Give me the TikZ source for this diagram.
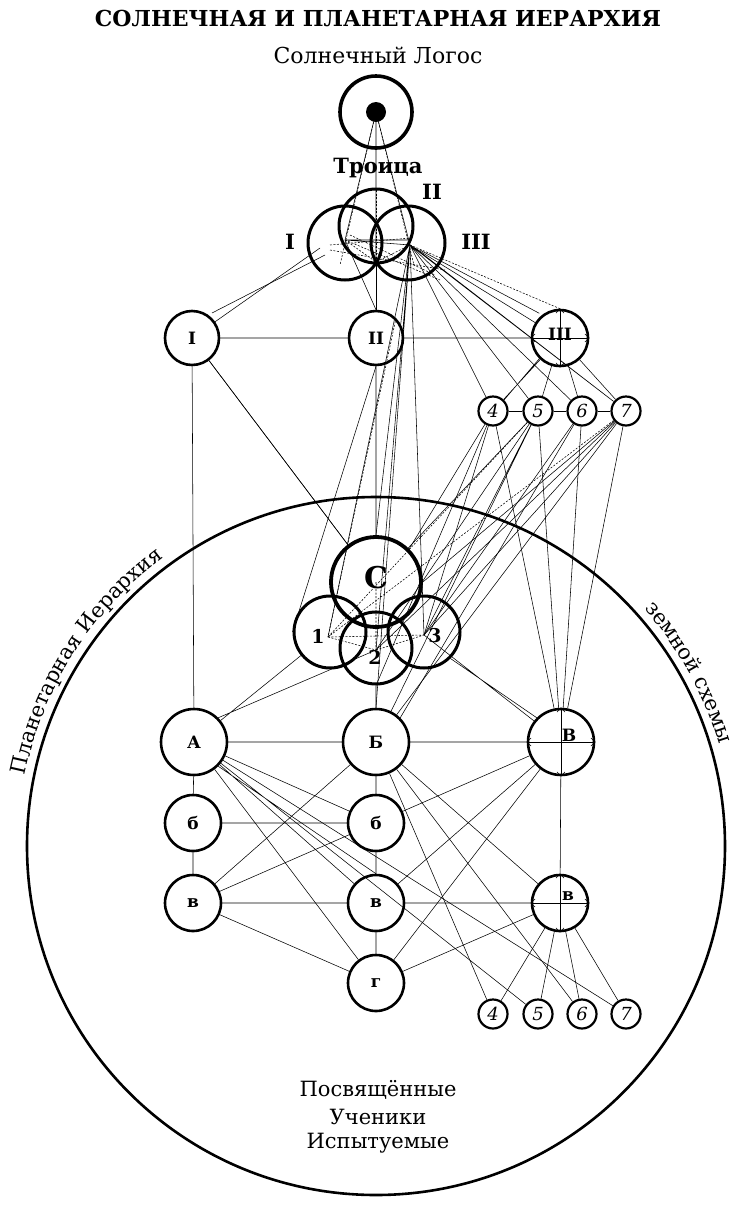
\documentclass[tikz,border=0pt]{standalone}
\usepackage{fontspec}
\setmainfont{DejaVu Serif}
\usetikzlibrary{decorations.text,arrows.meta}
\begin{document}
\begin{tikzpicture}[x=1pt,y=-1pt,
  nd/.style={circle,draw,line width=2.6pt,inner sep=0pt,font=\bfseries\fontsize{17}{17}\selectfont},
  sm/.style={circle,draw,line width=2.2pt,inner sep=0pt,minimum size=29pt,font=\itshape\fontsize{18}{18}\selectfont},
  tk/.style={circle,draw,line width=3pt,inner sep=0pt},
  ln/.style={line width=0.55pt},
  ds/.style={line width=0.55pt,dash pattern=on 2pt off 1.5pt},
  ar/.style={line width=0.55pt,{Straight Barb[length=4pt]}-{Straight Barb[length=4pt]}}]
\useasboundingbox (0,0) rectangle (750,1205);
\fill[white] (0,0) rectangle (750,1205);
\node (title) at (378,18) {\bfseries\fontsize{22}{22}\selectfont СОЛНЕЧНАЯ И ПЛАНЕТАРНАЯ ИЕРАРХИЯ};
\node (logtxt) at (378,55) {\fontsize{22}{22}\selectfont Солнечный Логос};
\node (tr) at (378,168) {\bfseries\fontsize{21}{21}\selectfont Троица};
\node (lI) at (290,242) {\bfseries\fontsize{21}{21}\selectfont I};
\node (lII) at (432,192) {\bfseries\fontsize{21}{21}\selectfont II};
\node (lIII) at (476,242) {\bfseries\fontsize{21}{21}\selectfont III};
\node[tk,line width=3.6pt,minimum size=72pt] (L) at (376,112) {};
\fill (376,112) circle (10);
\node[tk,minimum size=74pt] (T1) at (345,243) {};
\node[tk,minimum size=74pt] (T2) at (376,226) {};
\node[tk,minimum size=74pt] (T3) at (408,243) {};
\coordinate (t1) at (345,240);
\coordinate (t3) at (410,245);
\coordinate (t2) at (376,262);
\node[nd,minimum size=54pt] (I) at (192,338) {I};
\node[nd,minimum size=54pt] (II) at (376,338) {II};
\node[nd,minimum size=56pt] (III) at (560,338) {\raisebox{8pt}{III}};
\node[sm] (a4) at (493,411) {4};
\node[sm] (a5) at (538,411) {5};
\node[sm] (a6) at (582,411) {6};
\node[sm] (a7) at (626,411) {7};
\node[tk,line width=3.8pt,minimum size=90pt,font=\bfseries\fontsize{30}{30}\selectfont] (C) at (376,582) {\raisebox{10pt}{C}};
\node[tk,minimum size=72pt] (K1) at (330,632) {};
\node[tk,minimum size=72pt] (K2) at (376,648) {};
\node[tk,minimum size=72pt] (K3) at (424,632) {};
\node[font=\bfseries\fontsize{19}{19}\selectfont] (n1) at (318,636) {1};
\node[font=\bfseries\fontsize{19}{19}\selectfont] (n2) at (375,657) {2};
\node[font=\bfseries\fontsize{19}{19}\selectfont] (n3) at (435,636) {3};
\coordinate (k1) at (328,637);
\coordinate (k2) at (376,650);
\coordinate (k3) at (424,635);
\node[nd,minimum size=66pt] (A) at (194,742) {А};
\node[nd,minimum size=66pt] (B) at (376,742) {Б};
\node[nd,minimum size=66pt] (V) at (561,742) {\hspace{16pt}\raisebox{14pt}{В}};
\node[nd,minimum size=56pt] (b1) at (193,823) {б};
\node[nd,minimum size=56pt] (b2) at (376,823) {б};
\node[nd,minimum size=56pt] (v1) at (193,903) {в};
\node[nd,minimum size=56pt] (v2) at (376,903) {в};
\node[nd,minimum size=56pt] (v3) at (560,903) {\hspace{16pt}\raisebox{14pt}{в}};
\node[nd,minimum size=56pt] (g) at (376,983) {г};
\node[sm] (c4) at (493,1014) {4};
\node[sm] (c5) at (538,1014) {5};
\node[sm] (c6) at (582,1014) {6};
\node[sm] (c7) at (626,1014) {7};
\node[circle,draw,line width=2.6pt,minimum size=698pt,inner sep=0pt] (P) at (376,846) {};
\path[decorate,decoration={text along path,text align=center,text={|\fontsize{21}{21}\selectfont|Планетарная Иерархия}}]
  (376,846) ++(-173:358) arc[start angle=-173,end angle=-122,radius=358];
\path[decorate,decoration={text along path,text align=center,text={|\fontsize{21}{21}\selectfont|земной схемы}}]
  (376,846) ++(-48:358) arc[start angle=-48,end angle=-10,radius=358];
\node (t1x) at (378,1090) {\fontsize{21}{21}\selectfont Посвящённые};
\node (t2x) at (378,1117) {\fontsize{21}{21}\selectfont Ученики};
\node (t3x) at (378,1143) {\fontsize{21}{21}\selectfont Испытуемые};
\draw[ln] (L.center) -- (t1) (L.center) -- (t3) (L.center) -- (t2);
\draw[ds] (L.center) -- (340,265) (L.center) -- (414,265);
\draw[ds] (376,190) -- (t2);
\draw[ln] (t1) -- (t3) (t1) -- (410,240);
\draw[ds] (t1) -- (t2) (t3) -- (t2) (330,245) -- (410,238) (330,250) -- (445,270) (345,240) -- (440,280) (350,235)--(435,275);
\draw[ln] (T1.center) ++(-25,5) -- (I);
\draw[ln] (T1.center) ++(-20,12) -- ([yshift=5pt]I.north east);
\draw[ln] (t2) -- (II);
\draw[ln] (t3) -- (III);
\draw[ln] (t3) ++(10,5) -- ([yshift=4pt]III.north west);
\draw[ln] (t3) -- (a4) (t3) -- (a5) (t3) -- (a6) (t3) -- (a7) (t3) ++(5,3) -- (a7);
\draw[ln] (t1) -- (II.north);
\draw[ln] (t3) -- (k1) (t3) -- (C.north) (t3) -- (k2) (t3) -- (k3) (t3) -- (B.north);
\draw[ds] (t3) -- (III.north);
\draw[ln] (I) -- (II) (II) -- (III) (I) -- (A) (I) -- (C) (II) -- (C);
\draw[ds] (II.north east) -- (k1);
\draw[ar] (III.west) -- (III.east);
\draw[ar] (III.north) -- (III.south);
\draw[ln] (a4) -- (a5) (a5) -- (a6) (a6) -- (a7);
\draw[ln] (III) -- (a4) (III) -- (a5) (III) -- (a6) (III) -- (a7) (III.south west) -- (a4.north east);
\draw[ln] (II.south) -- (K1.west);
\draw[ln] (a4) -- (C.north east) (a4) -- (k3) (a4) -- (V) (a4) -- (K2.south);
\draw[ln] (a5) -- (C) (a5) -- (k3) (a5) -- (B) (a5) -- (V) (a5) -- (k2);
\draw[ln] (a6) -- (k3) (a6) -- (V) (a6) -- (B.north east);
\draw[ln] (a7) -- (C.east) (a7) -- (k3) (a7) -- (V) (a7) -- (k2) (a7) -- (B);
\draw[ds] (a5) -- (k1) (a7) -- (k1);
\draw[ln] (K2) -- (B) (K1) -- (A) (k2) -- (A.north east) (k3) -- (V) (K3.south east) -- (V.north west) (C) -- (I);
\draw[ds] (k1) -- (k2) (k2) -- (k3) (k1) -- (k3) (C.center) -- (k2);
\draw[ln] (A) -- (B) (B) -- (V) (A) -- (b1) (b1) -- (v1) (b1) -- (b2) (v1) -- (v2) (v2) -- (v3);
\draw[ln] (B) -- (b2) (b2) -- (v2) (v2) -- (g) (V) -- (v3);
\draw[ar] (V.west) -- (V.east);
\draw[ar] (V.north) -- (V.south);
\draw[ar] (v3.west) -- (v3.east);
\draw[ar] (v3.north) -- (v3.south);
\draw[ln] (A) -- (b2) (A) -- (v2) (A.south east) -- (v2.north) (A) -- (g) (A) -- (c5) (A) -- (c7);
\draw[ln] (B) -- (v1) (B) -- (c4) (B) -- (c6) (B) -- (v3);
\draw[ln] (V) -- (b2) (V) -- (v2) (V) -- (g);
\draw[ln] (b2) -- (v1) (v1) -- (g) (v3) -- (g);
\draw[ln] (v3) -- (c4) (v3) -- (c5) (v3) -- (c6) (v3) -- (c7);
\end{tikzpicture}
\end{document}
